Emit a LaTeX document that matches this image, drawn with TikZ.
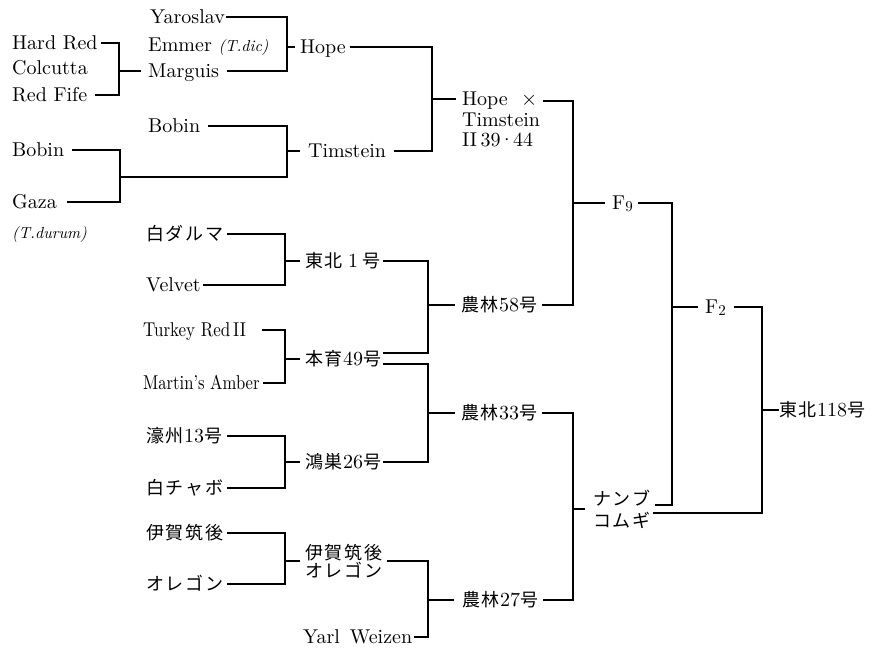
\documentclass[tikz,border=0pt]{standalone}
\usepackage{fontspec}
\usepackage{graphicx}
\setmainfont{lmroman10-regular.otf}[ItalicFont=lmroman10-italic.otf,BoldFont=lmroman10-bold.otf]
\newfontfamily\jp[LetterSpace=10]{Noto Sans CJK JP}
\usetikzlibrary{calc}
\newcommand\jpt[1]{{\fontsize{18}{20}\selectfont\jp #1}}
\newcommand\gensub[1]{\raisebox{-2pt}{\fontsize{15}{15}\selectfont #1}}
\begin{document}
\begin{tikzpicture}[x=1pt,y=-1pt,
  lbl/.style={anchor=west,inner sep=0pt,text height=13.5pt,text depth=0pt,font=\fontsize{20}{24}\selectfont},
  multi/.style={inner sep=0pt,align=left},
  link/.style={line width=1.3pt,line join=miter}]
\path[fill=white,use as bounding box] (0,0) rectangle (875,651);

% joint columns
\coordinate (x1) at (119,0);
\coordinate (x2) at (287,0);
\coordinate (x3) at (432,0);
\coordinate (x4) at (573,0);
\coordinate (x5) at (672,0);
\coordinate (x6) at (762,0);
\coordinate (x7) at (285,0);
\coordinate (x8) at (428,0);
\coordinate (jbg) at (120,177);

% ---------- labels ----------
\node[lbl] (hardred)  at (12,43)  {Hard Red};
\node[lbl] (colcutta) at (12,68)  {Colcutta};
\node[lbl] (redfife)  at (12,95)  {Red Fife};
\node[lbl] (yaroslav) at (150,17) {Yaroslav};
\node[lbl] (emmer)    at (148,45) {Emmer {\fontsize{16}{18}\selectfont\itshape (T.dic)}};
\node[lbl] (marguis)  at (148,71) {Marguis};
\node[lbl] (hope)     at (300,47) {Hope};
\node[lbl] (bobinA)   at (148,126) {Bobin};
\node[lbl] (bobinB)   at (12,150) {Bobin};
\node[lbl] (gaza)     at (12,202) {Gaza};
\node[lbl,font=\fontsize{16}{18}\selectfont\itshape] (durum) at (12,232) {(T.durum)};
\node[lbl] (timstein) at (308,151) {Timstein};
\node[multi,anchor=north west,font=\fontsize{20}{20.5}\selectfont] (hx) at (462,92)
  {Hope\ \ $\times$\\Timstein\\II\,39\kern-1.5pt·\kern-1.5pt44};
\node[lbl] (f9)  at (612,203) {F\gensub{9}};
\node[lbl] (f2)  at (705,307) {F\gensub{2}};
\node[lbl] (tb118) at (779,410) {\jpt{東北}118\jpt{号}};

\node[lbl] (shiro)   at (146,234) {\jpt{白ダルマ}};
\node[lbl] (velvet)  at (146,285) {Velvet};
\node[lbl] (turkey)  at (143,330) {\scalebox{0.85}[1]{Turkey Red\,II}};
\node[lbl] (martin)  at (143,383) {\scalebox{0.83}[1]{Martin's Amber}};
\node[lbl] (tohoku1) at (305,261) {\jpt{東北}\hspace{5pt}1\hspace{4pt}\jpt{号}};
\node[lbl] (hon49)   at (305,359) {\jpt{本育}49\jpt{号}};
\node[lbl] (nor58)   at (461,305) {\jpt{農林}58\jpt{号}};
\node[lbl] (gou13)   at (146,436) {\jpt{濠州}13\jpt{号}};
\node[lbl] (chabo)   at (146,488) {\jpt{白チャボ}};
\node[lbl] (kon26)   at (305,462) {\jpt{鴻巣}26\jpt{号}};
\node[lbl] (nor33)   at (461,413) {\jpt{農林}33\jpt{号}};
\node[lbl] (iga)     at (146,533) {\jpt{伊賀筑後}};
\node[lbl] (oregon)  at (146,584) {\jpt{オレゴン}};
\node[multi,anchor=west,font=\fontsize{18}{18.5}\selectfont\jp] (igaor) at (305,561)
  {伊賀筑後\\オレゴン};
\node[lbl] (yarl)    at (303,637) {Yarl\hspace{0.5em}Weizen};
\node[lbl] (nor27)   at (462,600) {\jpt{農林}27\jpt{号}};
\node[multi,anchor=west,font=\fontsize{18}{22}\selectfont\jp] (nambu) at (593,509)
  {ナンブ\\コムギ};

% attachment points on multi-line / double-linked labels
\coordinate (hxin)  at ($(hx.north west)+(0,7)$);
\coordinate (hxout) at ($(hx.north east)+(3,9)$);
\coordinate (hA)    at ($(hon49.east)+(2,-6)$);
\coordinate (hB)    at ($(hon49.east)+(2,5)$);
\coordinate (nbA)   at ($(nambu.east)+(4,-4)$);
\coordinate (nbB)   at ($(nambu.east)+(2,4)$);

% ---------- connectors ----------
\begin{scope}[link]
% Hard Red / Colcutta / Red Fife -> Marguis
\draw ([xshift=3pt]hardred.east) -| (marguis.west -| x1) |- ([xshift=8pt]redfife.east);
\draw (marguis.west -| x1) -- ([xshift=-7pt]marguis.west);
% Yaroslav / Marguis -> Hope
\draw ([xshift=1pt]yaroslav.east) -| (hope.west -| x2) |- ([xshift=8pt]marguis.east);
\draw (hope.west -| x2) -- ([xshift=-5pt]hope.west);
% Bobin / Gaza, Bobin -> Timstein
\draw ([xshift=8pt]bobinB.east) -| (jbg) |- ([xshift=10pt]gaza.east);
\draw ([xshift=8pt]bobinA.east) -| (timstein.west -| x2) |- (jbg);
\draw (timstein.west -| x2) -- ([xshift=-8pt]timstein.west);
% Hope / Timstein -> Hope x Timstein
\draw ([xshift=4pt]hope.east) -| (hxin -| x3) |- ([xshift=8pt]timstein.east);
\draw (hxin -| x3) -- ([xshift=-6pt]hxin);
% Hope x Timstein / Norin 58 -> F9
\draw (hxout) -| (f9.west -| x4) |- ([xshift=5pt]nor58.east);
\draw (f9.west -| x4) -- ([xshift=-7pt]f9.west);
% F9 / Nambu -> F2
\draw ([xshift=5pt]f9.east) -| (f2.west -| x5) |- (nbA);
\draw (f2.west -| x5) -- ([xshift=-7pt]f2.west);
% F2 / Nambu -> Tohoku 118
\draw ([xshift=8pt]f2.east) -| (tb118.west -| x6) |- (nbB);
\draw (tb118.west -| x6) -- (tb118.west);
% Shiro Daruma / Velvet -> Tohoku 1
\draw ([xshift=3pt]shiro.east) -| (tohoku1.west -| x7) |- ([xshift=2pt]velvet.east);
\draw (tohoku1.west -| x7) -- ([xshift=-5pt]tohoku1.west);
% Turkey Red II / Martin's Amber -> Hon'iku 49
\draw ([xshift=16pt]turkey.east) -| (hon49.west -| x7) |- ([xshift=3pt]martin.east);
\draw (hon49.west -| x7) -- ([xshift=-5pt]hon49.west);
% Tohoku 1 / Hon'iku 49 -> Norin 58
\draw ([xshift=3pt]tohoku1.east) -| (nor58.west -| x8) |- (hA);
\draw (nor58.west -| x8) -- ([xshift=-6pt]nor58.west);
% Goshu 13 / Shiro Chabo -> Konosu 26
\draw ([xshift=5pt]gou13.east) -| (kon26.west -| x7) |- ([xshift=3pt]chabo.east);
\draw (kon26.west -| x7) -- ([xshift=-5pt]kon26.west);
% Hon'iku 49 / Konosu 26 -> Norin 33
\draw (hB) -| (nor33.west -| x8) |- ([xshift=2pt]kon26.east);
\draw (nor33.west -| x8) -- ([xshift=-6pt]nor33.west);
% Iga Chikugo / Oregon -> Iga Chikugo Oregon
\draw ([xshift=3pt]iga.east) -| (igaor.west -| x7) |- ([xshift=3pt]oregon.east);
\draw (igaor.west -| x7) -- ([xshift=-5pt]igaor.west);
% Iga Chikugo Oregon / Yarl Weizen -> Norin 27
\draw ([xshift=4pt]igaor.east) -| (nor27.west -| x8) |- ([xshift=2pt]yarl.east);
\draw (nor27.west -| x8) -- ([xshift=-8pt]nor27.west);
% Norin 33 / Norin 27 -> Nambu Komugi
\draw ([xshift=5pt]nor33.east) -| (nambu.west -| x4) |- ([xshift=5pt]nor27.east);
\draw (nambu.west -| x4) -- ([xshift=-8pt]nambu.west);
\end{scope}
\end{tikzpicture}
\end{document}
